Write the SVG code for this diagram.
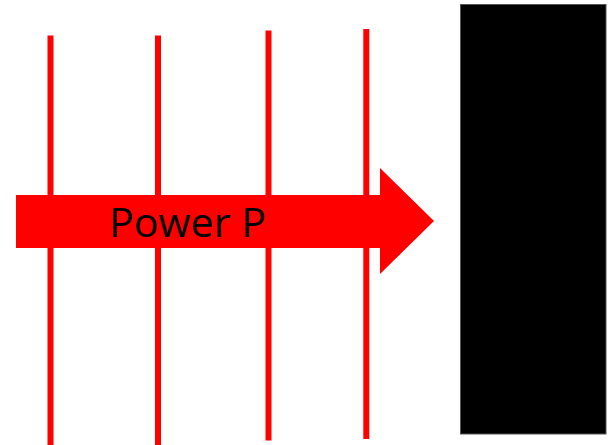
<svg xmlns="http://www.w3.org/2000/svg" width="611" height="445" viewBox="0 0 611 445">
<style>
.fl{stroke:#ff0000;stroke-width:6;fill:none}
.lbl{font-family:"Open Sans","Noto Sans",sans-serif;font-size:40px;fill:#000}
</style>
<rect width="611" height="445" fill="#fff"/>
<g id="field-lines">
<line class="fl" x1="50.5" y1="35.5" x2="50.5" y2="445"/>
<line class="fl" x1="158" y1="35.5" x2="158" y2="445"/>
<line class="fl" x1="268.5" y1="30.5" x2="268.5" y2="440.5"/>
<line class="fl" x1="366.3" y1="29" x2="366.3" y2="439"/>
</g>
<g id="power-arrow">
<polygon points="16,195 380,195 380,168 434,221 380,274 380,248 16,248" fill="#ff0000"/>
<text class="lbl" x="109" y="236.5" textLength="157" lengthAdjust="spacingAndGlyphs">Power P</text>
</g>
<g id="absorber">
<rect x="460.5" y="4.5" width="145.5" height="429.5" fill="#000" stroke="#555" stroke-width="1"/>
</g>
</svg>
